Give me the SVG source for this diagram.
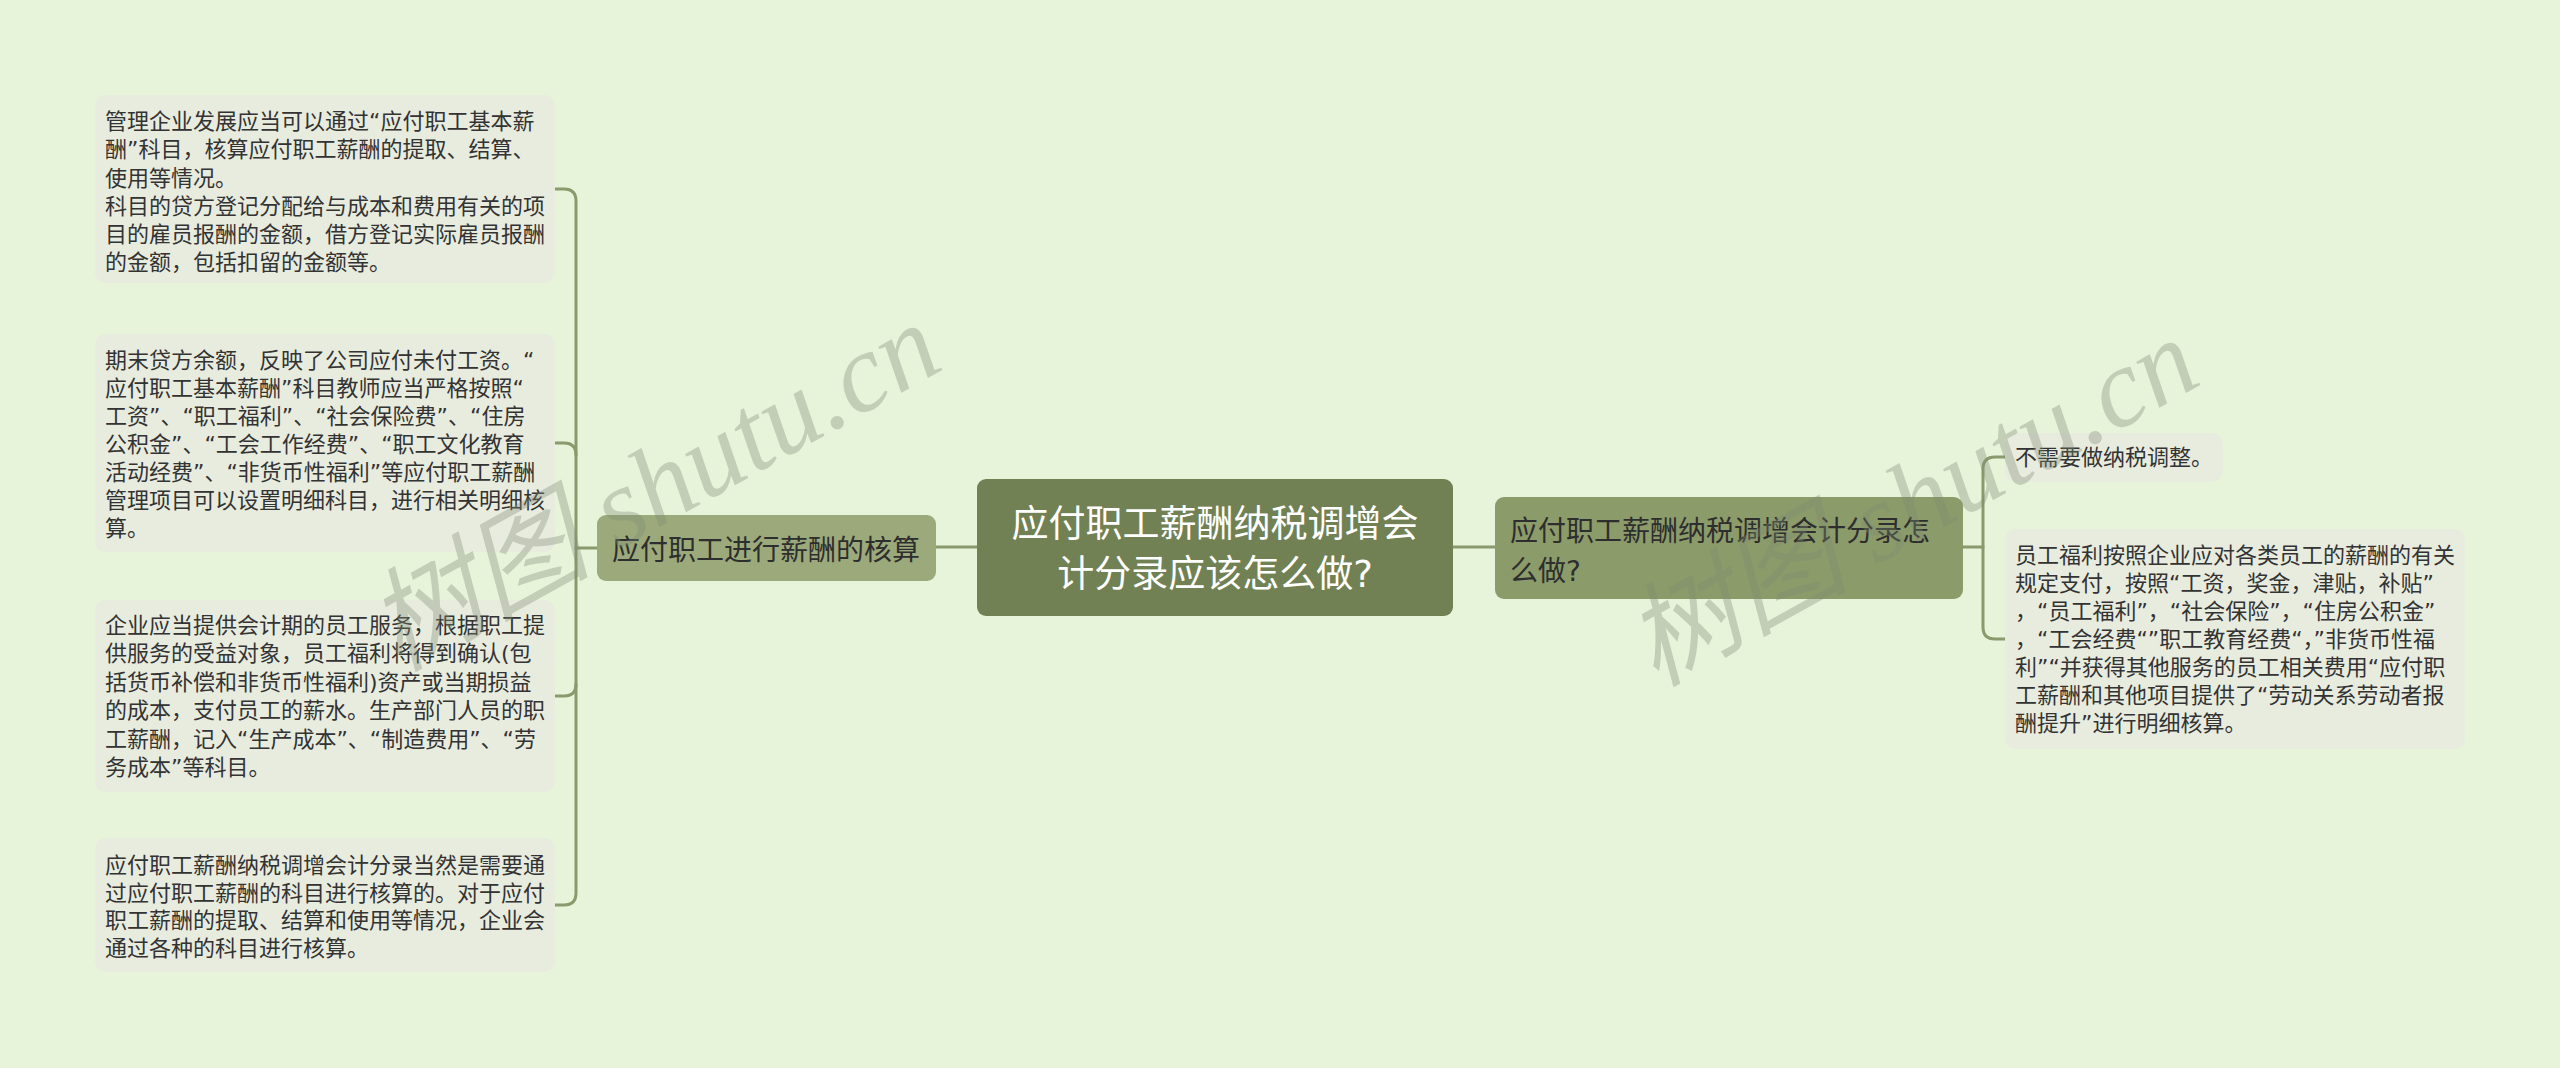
<svg xmlns="http://www.w3.org/2000/svg" width="2560" height="1068" viewBox="0 0 2560 1068">
<style>
.bg{fill:#e7f4da}
.leaf{fill:#e8ecdf}
.conn{fill:none;stroke:#8a9a6c;stroke-width:3;stroke-linecap:round}
.tl{font-family:"DejaVu Sans","Noto Sans CJK SC",sans-serif;font-size:22px;fill:#333333}
.tr{font-family:"DejaVu Sans","Noto Sans CJK SC",sans-serif;font-size:22px;fill:#333333}
.mid{font-family:"Liberation Sans","Noto Sans CJK SC",sans-serif;font-size:28px;fill:#2e2e2e}
.root{font-family:"Liberation Sans","Noto Sans CJK SC",sans-serif;font-size:37px;fill:#ffffff}
.q{font-family:"DejaVu Sans",sans-serif}
.wm{font-family:"Liberation Serif","Noto Sans CJK SC",serif;font-size:112px;font-style:italic;fill:#7f8c74;opacity:0.35}
</style>
<rect class="bg" x="0" y="0" width="2560" height="1068"/>

<g id="connectors">
<path class="conn" d="M555,189 H564 Q576,189 576,201 V893 Q576,905 564,905 H555"/>
<path class="conn" d="M555,443 H564 Q576,443 576,455"/>
<path class="conn" d="M555,696 H564 Q576,696 576,684"/>
<path class="conn" d="M576,548 H597"/>
<path class="conn" d="M936,547 H977"/>
<path class="conn" d="M1453,547 H1495"/>
<path class="conn" d="M1963,547 H1983"/>
<path class="conn" d="M2005,457 H1995 Q1983,457 1983,469 V627 Q1983,639 1995,639 H2005"/>
</g>

<g id="root">
<rect x="977" y="479" width="476" height="137" rx="9" fill="#728153"/>
<text class="root" text-anchor="middle"><tspan x="1215" y="537">应付职工薪酬纳税调增会</tspan><tspan x="1215" y="587">计分录应该怎么做<tspan class="q">?</tspan></tspan></text>
</g>

<g id="left-branch">
<rect x="597" y="515" width="339" height="66" rx="9" fill="#9caa7b"/>
<text class="mid" x="766" y="560" text-anchor="middle">应付职工进行薪酬的核算</text>
</g>

<g id="right-branch">
<rect x="1495" y="497" width="468" height="102" rx="9" fill="#8c9b6a"/>
<text class="mid"><tspan x="1510" y="541">应付职工薪酬纳税调增会计分录怎</tspan><tspan x="1510" y="581">么做<tspan class="q">?</tspan></tspan></text>
</g>

<g id="leaf-l1">
<rect class="leaf" x="95" y="95" width="460" height="188" rx="10"/>
<text class="tl"><tspan x="105" y="129">管理企业发展应当可以通过“应付职工基本薪</tspan><tspan x="105" y="157">酬”科目，核算应付职工薪酬的提取、结算、</tspan><tspan x="105" y="185.5">使用等情况。</tspan><tspan x="105" y="213.5">科目的贷方登记分配给与成本和费用有关的项</tspan><tspan x="105" y="242">目的雇员报酬的金额，借方登记实际雇员报酬</tspan><tspan x="105" y="270">的金额，包括扣留的金额等。</tspan></text>
</g>

<g id="leaf-l2">
<rect class="leaf" x="95" y="334" width="460" height="218" rx="10"/>
<text class="tl"><tspan x="105" y="368">期末贷方余额，反映了公司应付未付工资。“</tspan><tspan x="105" y="396">应付职工基本薪酬”科目教师应当严格按照“</tspan><tspan x="105" y="424">工资”、“职工福利”、“社会保险费”、“住房</tspan><tspan x="105" y="452">公积金”、“工会工作经费”、“职工文化教育</tspan><tspan x="105" y="480">活动经费”、“非货币性福利”等应付职工薪酬</tspan><tspan x="105" y="508">管理项目可以设置明细科目，进行相关明细核</tspan><tspan x="105" y="536">算。</tspan></text>
</g>

<g id="leaf-l3">
<rect class="leaf" x="95" y="600" width="460" height="192" rx="10"/>
<text class="tl"><tspan x="105" y="633">企业应当提供会计期的员工服务，根据职工提</tspan><tspan x="105" y="661.4">供服务的受益对象，员工福利将得到确认(包</tspan><tspan x="105" y="689.8">括货币补偿和非货币性福利)资产或当期损益</tspan><tspan x="105" y="718.2">的成本，支付员工的薪水。生产部门人员的职</tspan><tspan x="105" y="746.6">工薪酬，记入“生产成本”、“制造费用”、“劳</tspan><tspan x="105" y="775">务成本”等科目。</tspan></text>
</g>

<g id="leaf-l4">
<rect class="leaf" x="95" y="838" width="460" height="134" rx="10"/>
<text class="tl"><tspan x="105" y="873">应付职工薪酬纳税调增会计分录当然是需要通</tspan><tspan x="105" y="900.7">过应付职工薪酬的科目进行核算的。对于应付</tspan><tspan x="105" y="928.4">职工薪酬的提取、结算和使用等情况，企业会</tspan><tspan x="105" y="956">通过各种的科目进行核算。</tspan></text>
</g>

<g id="leaf-r1">
<rect class="leaf" x="2005" y="433" width="218" height="49" rx="10"/>
<text class="tr" x="2015" y="465">不需要做纳税调整。</text>
</g>

<g id="leaf-r2">
<rect class="leaf" x="2005" y="529" width="460" height="220" rx="10"/>
<text class="tr"><tspan x="2015" y="563">员工福利按照企业应对各类员工的薪酬的有关</tspan><tspan x="2015" y="591">规定支付，按照“工资，奖金，津贴，补贴”</tspan><tspan x="2015" y="619">，“员工福利”，“社会保险”，“住房公积金”</tspan><tspan x="2015" y="647">，“工会经费“”职工教育经费“，”非货币性福</tspan><tspan x="2015" y="675">利”“并获得其他服务的员工相关费用“应付职</tspan><tspan x="2015" y="703">工薪酬和其他项目提供了“劳动关系劳动者报</tspan><tspan x="2015" y="731">酬提升”进行明细核算。</tspan></text>
</g>

<text class="wm" text-anchor="middle" transform="translate(672,520) rotate(-29)">树图 shutu.cn</text>
<text class="wm" text-anchor="middle" transform="translate(1930,535) rotate(-29)">树图 shutu.cn</text>
</svg>
